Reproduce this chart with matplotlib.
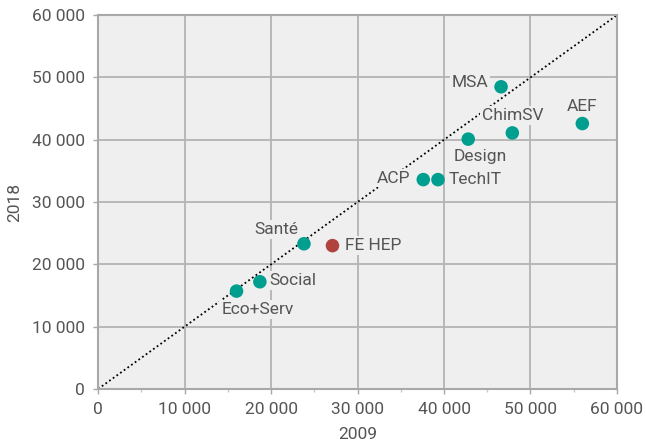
import matplotlib
matplotlib.use("Agg")
import matplotlib.pyplot as plt
from matplotlib.ticker import FuncFormatter, MultipleLocator

plt.rcParams['font.family'] = ['Roboto', 'DejaVu Sans']

# données
labels = ["MSA", "ChimSV", "AEF", "Design", "ACP", "TechIT",
          "Santé", "FE HEP", "Social", "Eco+Serv"]
val_2009 = [46600, 47900, 56000, 42800, 37600, 39300, 23800, 27100, 18700, 16000]
val_2018 = [48500, 41100, 42600, 40100, 33600, 33600, 23300, 23000, 17200, 15700]
highlight = "FE HEP"

# position des étiquettes (décalage en points)
offsets = {
    "MSA": (-9, 3, "right", "center"),
    "ChimSV": (0, 7, "center", "bottom"),
    "AEF": (0, 7, "center", "bottom"),
    "Design": (9, -7, "center", "top"),
    "ACP": (-9, 1, "right", "center"),
    "TechIT": (8, 0, "left", "center"),
    "Santé": (-4, 5, "right", "bottom"),
    "FE HEP": (9, 0, "left", "center"),
    "Social": (7, 1, "left", "center"),
    "Eco+Serv": (15, -8, "center", "top"),
}

teal = "#009e8e"
red = "#b0433d"
txt = "#555555"
bg = "#efefef"
grid = "#b4b4b4"

fig = plt.figure(figsize=(6.46, 4.46), dpi=100)
ax = fig.add_axes([0.152, 0.128, 0.803, 0.838])
ax.set_facecolor(bg)

# diagonale y = x
ax.plot([0, 60000], [0, 60000], linestyle=(0, (1, 1.5)), color="black",
        linewidth=1.3, zorder=2)

colors = [red if l == highlight else teal for l in labels]
ax.scatter(val_2009, val_2018, s=95, c=colors, zorder=4, linewidths=0)

for l, x, y in zip(labels, val_2009, val_2018):
    dx, dy, ha, va = offsets[l]
    ax.annotate(l, (x, y), xytext=(dx, dy), textcoords="offset points",
                ha=ha, va=va, fontsize=12.5, color=txt, zorder=3,
                bbox=dict(boxstyle="square,pad=0.1", fc=bg, ec="none"))

ax.set_xlim(0, 60000)
ax.set_ylim(0, 60000)
ax.xaxis.set_major_locator(MultipleLocator(10000))
ax.xaxis.set_minor_locator(MultipleLocator(5000))
ax.yaxis.set_major_locator(MultipleLocator(10000))

fmt = FuncFormatter(lambda v, p: f"{int(v):,}".replace(",", " "))
ax.xaxis.set_major_formatter(fmt)
ax.yaxis.set_major_formatter(fmt)

ax.grid(True, which="major", color=grid, linewidth=1.3, zorder=0)
ax.set_axisbelow(True)
for s in ax.spines.values():
    s.set_color("#a8a8a8")
    s.set_linewidth(1.5)

ax.tick_params(which="major", length=3.5, width=1, color="#a8a8a8",
               labelsize=12.5, labelcolor=txt, pad=6)
ax.tick_params(which="minor", axis="x", length=2, width=1, color="#c8c8c8")

ax.set_xlabel("2009", fontsize=12.5, color=txt, labelpad=7)
ax.set_ylabel("2018", fontsize=12.5, color=txt, labelpad=7)

plt.savefig("out.png", dpi=100)
plt.close()
